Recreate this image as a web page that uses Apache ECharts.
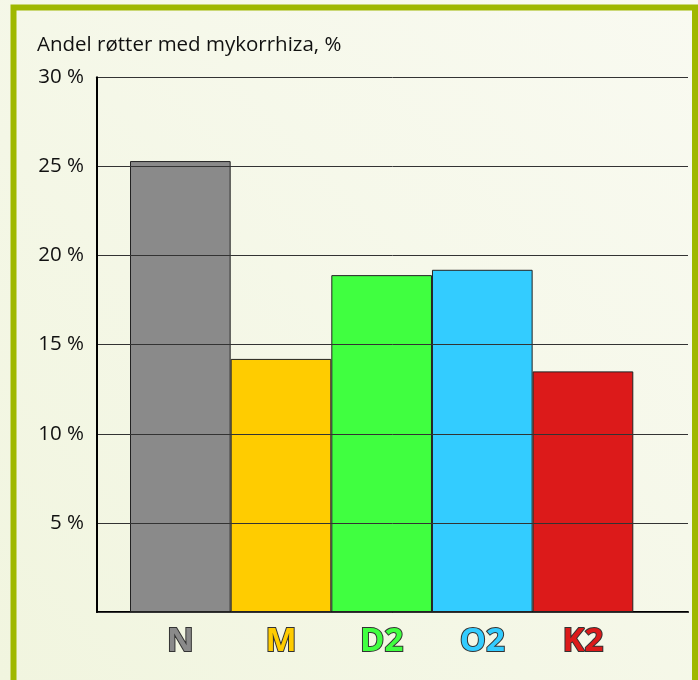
<!DOCTYPE html>
<html>
<head>
<meta charset="utf-8">
<style>
  html, body { margin: 0; padding: 0; }
  #chart { width: 698px; height: 680px; }
</style>
<script src="https://cdn.jsdelivr.net/npm/echarts@6/dist/echarts.min.js"></script>
</head>
<body>
<div id="chart"></div>
<script>
// 数据
var categories = ['N', 'M', 'D2', 'O2', 'K2'];
var values = [25.3, 14.2, 18.9, 19.2, 13.5];
var barColors = ['#8a8a8a', '#ffcc00', '#40ff40', '#33ccff', '#dc1a1a'];
var yTicks = [0, 5, 10, 15, 20, 25, 30];

var font = '"Open Sans", "Noto Sans", sans-serif';

// 每个类别标签的样式
var rich = {};
categories.forEach(function (c, i) {
    rich['c' + i] = {
        color: barColors[i],
        fontSize: 33,
        fontWeight: 'bold',
        fontFamily: font,
        textBorderColor: '#333',
        textBorderWidth: 2
    };
});

var chart = echarts.init(document.getElementById('chart'));

var option = {
    animation: false,
    backgroundColor: {
        type: 'linear', x: 0, y: 1, x2: 1, y2: 0,
        colorStops: [
            { offset: 0, color: '#f1f5df' },
            { offset: 1, color: '#f9faf1' }
        ]
    },
    title: {
        text: 'Andel røtter med mykorrhiza, %',
        left: 32,
        top: 30,
        textStyle: { color: '#111', fontSize: 20.5, fontWeight: 'normal', fontFamily: font }
    },
    graphic: [{
        type: 'rect',
        shape: { x: 13.5, y: 7.5, width: 681.5, height: 720 },
        style: { fill: null, stroke: '#9fb800', lineWidth: 6 }
    }],
    grid: [
        // 坐标轴和网格线
        { left: 97, right: 10, top: 77.3, bottom: 68 },
        // 柱子
        { left: 130, right: 64.7, top: 77.3, bottom: 68 }
    ],
    xAxis: [{
        gridIndex: 0,
        type: 'value',
        min: 0,
        max: 1,
        axisLine: { show: true, lineStyle: { color: '#000', width: 2 } },
        axisTick: { show: false },
        axisLabel: { show: false },
        splitLine: { show: false }
    }, {
        gridIndex: 1,
        type: 'category',
        data: categories,
        axisLine: { show: false },
        axisTick: { show: false },
        axisLabel: {
            margin: 13,
            formatter: function (v) {
                return '{c' + categories.indexOf(v) + '|' + v + '}';
            },
            rich: rich
        }
    }],
    yAxis: [{
        gridIndex: 0,
        type: 'value',
        min: yTicks[0],
        max: yTicks[yTicks.length - 1],
        interval: 5,
        z: 3,
        axisLine: { show: true, lineStyle: { color: '#000', width: 2 } },
        axisTick: { show: false },
        axisLabel: {
            margin: 13,
            color: '#111',
            fontSize: 20.5,
            fontFamily: font,
            padding: [8, 0, 0, 0],
            formatter: function (v) { return v === 0 ? '' : v + ' %'; }
        },
        splitLine: { show: true, lineStyle: { color: '#333', width: 1 } }
    }, {
        gridIndex: 1,
        type: 'value',
        min: yTicks[0],
        max: yTicks[yTicks.length - 1],
        show: false,
        splitLine: { show: false }
    }],
    series: [{
        type: 'bar',
        xAxisIndex: 1,
        yAxisIndex: 1,
        barCategoryGap: '0%',
        data: values.map(function (v, i) {
            return { value: v, itemStyle: { color: barColors[i] } };
        }),
        itemStyle: { borderColor: '#222', borderWidth: 1 }
    }]
};

chart.setOption(option);
</script>
</body>
</html>
